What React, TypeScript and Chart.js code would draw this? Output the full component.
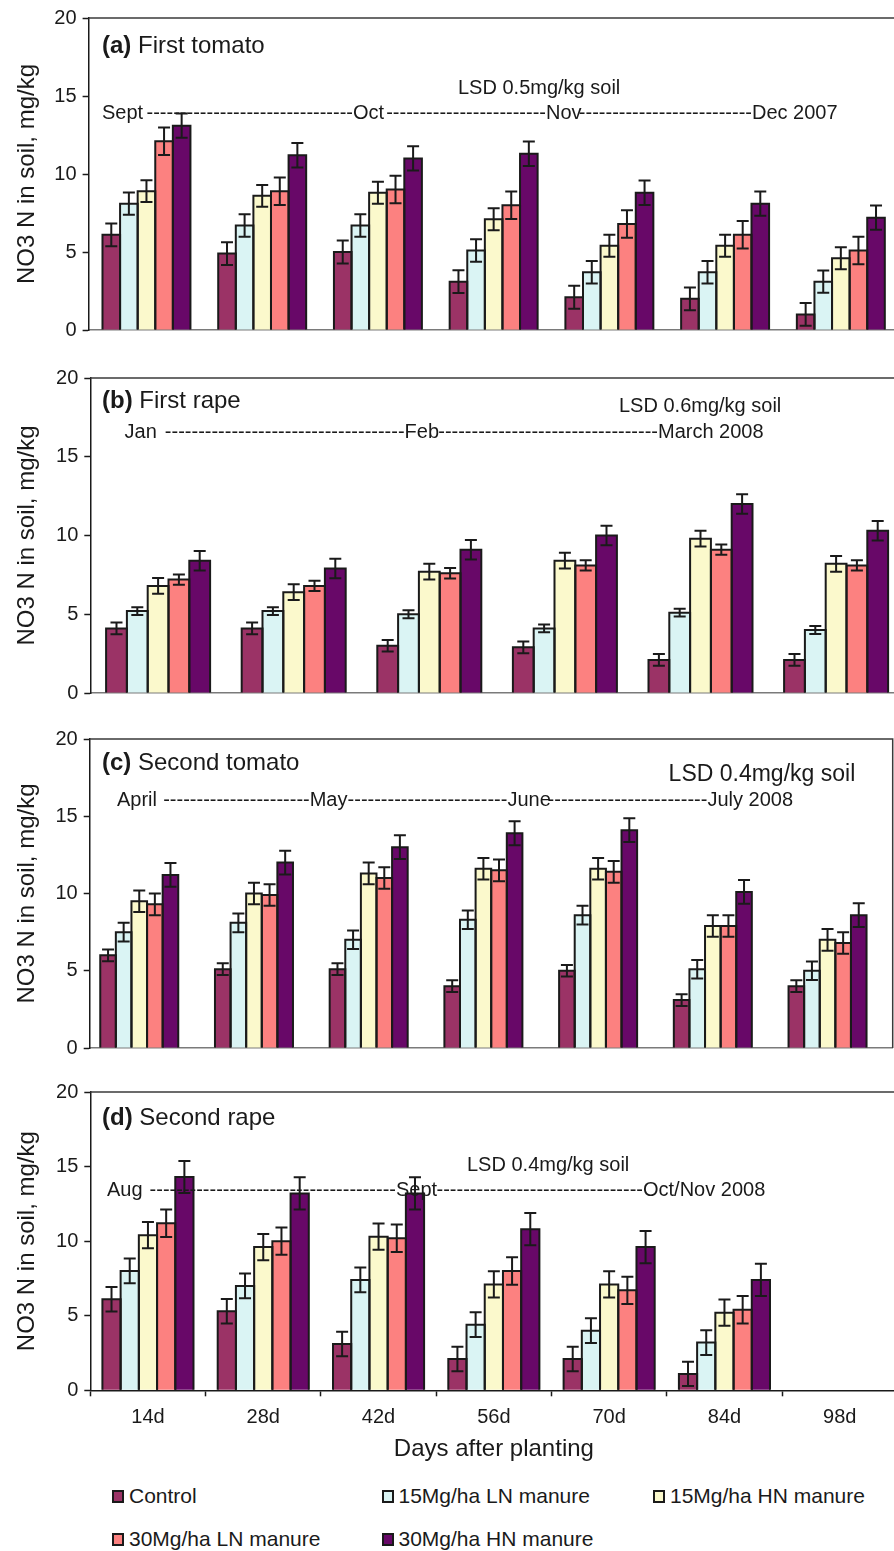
import React, { useEffect, useRef } from 'react';
import { Chart, registerables } from 'chart.js';

Chart.register(...registerables);

const FONT = '"Liberation Sans", Arial, Helvetica, sans-serif';
const INK = '#1a1a1a';

// ---------- data ----------
const seriesNames = ['Control', '15Mg/ha LN manure', '15Mg/ha HN manure', '30Mg/ha LN manure', '30Mg/ha HN manure'];
const seriesColors = ['#9b3366', '#daf4f4', '#fbf9cc', '#fc8180', '#680868'];

const days = ['14d', '28d', '42d', '56d', '70d', '84d', '98d'];
const daysFirstRape = ['14d', '28d', '42d', '56d', '70d', '84d'];

// (a) First tomato
const tomato1Control = [6.1, 4.9, 5.0, 3.1, 2.1, 2.0, 1.0];
const tomato1LN15 = [8.1, 6.7, 6.7, 5.1, 3.7, 3.7, 3.1];
const tomato1HN15 = [8.9, 8.6, 8.8, 7.1, 5.4, 5.4, 4.6];
const tomato1LN30 = [12.1, 8.9, 9.0, 8.0, 6.8, 6.1, 5.1];
const tomato1HN30 = [13.1, 11.2, 11.0, 11.3, 8.8, 8.1, 7.2];
const tomato1Err = [0.73, 0.72, 0.7, 0.88, 0.78];

// (b) First rape
const rape1Control = [4.1, 4.1, 3.0, 2.9, 2.1, 2.1];
const rape1LN15 = [5.2, 5.2, 5.0, 4.1, 5.1, 4.0];
const rape1HN15 = [6.8, 6.4, 7.7, 8.4, 9.8, 8.2];
const rape1LN30 = [7.2, 6.8, 7.6, 8.1, 9.1, 8.1];
const rape1HN30 = [8.4, 7.9, 9.1, 10.0, 12.0, 10.3];
const rape1Err = [0.37, 0.25, 0.5, 0.33, 0.62];

// (c) Second tomato
const tomato2Control = [6.0, 5.1, 5.1, 4.0, 5.0, 3.1, 4.0];
const tomato2LN15 = [7.5, 8.1, 7.0, 8.3, 8.6, 5.1, 5.0];
const tomato2HN15 = [9.5, 10.0, 11.3, 11.6, 11.6, 7.9, 7.0];
const tomato2LN30 = [9.3, 9.9, 11.0, 11.5, 11.4, 7.9, 6.8];
const tomato2HN30 = [11.2, 12.0, 13.0, 13.9, 14.1, 10.1, 8.6];
const tomato2Err = [0.38, 0.6, 0.7, 0.7, 0.77];
const tomato2Spacer = [null, null, null, null, null, null, null];

// (d) Second rape
const rape2Control = [6.1, 5.3, 3.1, 2.1, 2.1, 1.1, null];
const rape2LN15 = [8.0, 7.0, 7.4, 4.4, 4.0, 3.2, null];
const rape2HN15 = [10.4, 9.6, 10.3, 7.1, 7.1, 5.2, null];
const rape2LN30 = [11.2, 10.0, 10.2, 8.0, 6.7, 5.4, null];
const rape2HN30 = [14.3, 13.2, 13.2, 10.8, 9.6, 7.4, null];
const rape2Err = [0.82, 0.83, 0.88, 0.92, 1.08];

const yTicks = [0, 5, 10, 15, 20];

// ---------- panel configuration ----------
type Panel = {
  key: string;
  labels: string[];
  values: (number | null)[][];
  errors: number[];
  spacer?: (number | null)[];
  plotTop: number;
  plotBottom: number;
  left: number;
  right: number;
  cat: number;
  xAxis: boolean;
  rightBorder: boolean;
  title: [string, string];
  titlePos: [number, number];
  titleSize: number;
  lsd: { text: string; x: number; y: number; size: number };
  months: { texts: string[]; xs: number[]; y: number };
};

const CANVAS_W = 920;
const PAD_TOP = 16;
const X_AXIS_H = 73.7;

const panels: Panel[] = [
  {
    key: 'a', labels: days,
    values: [tomato1Control, tomato1LN15, tomato1HN15, tomato1LN30, tomato1HN30], errors: tomato1Err,
    plotTop: 15.7, plotBottom: 331.7, left: 88.6, right: 898.7, cat: 0.76, xAxis: false, rightBorder: false,
    title: ['(a)', ' First tomato'], titlePos: [102, 53], titleSize: 24,
    lsd: { text: 'LSD 0.5mg/kg soil', x: 458, y: 94, size: 20 },
    months: { texts: ['Sept', 'Oct', 'Nov', 'Dec 2007'], xs: [102, 353, 546, 752], y: 119 },
  },
  {
    key: 'b', labels: daysFirstRape,
    values: [rape1Control, rape1LN15, rape1HN15, rape1LN30, rape1HN30], errors: rape1Err,
    plotTop: 375.7, plotBottom: 695, left: 90.3, right: 903.9, cat: 0.767, xAxis: false, rightBorder: false,
    title: ['(b)', ' First rape'], titlePos: [102, 408], titleSize: 24,
    lsd: { text: 'LSD 0.6mg/kg soil', x: 619, y: 412, size: 20 },
    months: { texts: ['Jan', 'Feb', 'March 2008'], xs: [124.6, 404.6, 658], y: 438 },
  },
  {
    key: 'c', labels: days,
    values: [tomato2Control, tomato2LN15, tomato2HN15, tomato2LN30, tomato2HN30], errors: tomato2Err,
    spacer: tomato2Spacer,
    plotTop: 737.3, plotBottom: 1050.7, left: 89.7, right: 892.7, cat: 0.816, xAxis: false, rightBorder: true,
    title: ['(c)', ' Second tomato'], titlePos: [102, 770], titleSize: 24,
    lsd: { text: 'LSD 0.4mg/kg soil', x: 668.6, y: 781, size: 23 },
    months: { texts: ['April', 'May', 'June', 'July 2008'], xs: [117, 309.7, 507.4, 707.4], y: 806 },
  },
  {
    key: 'd', labels: days,
    values: [rape2Control, rape2LN15, rape2HN15, rape2LN30, rape2HN30], errors: rape2Err,
    plotTop: 1090, plotBottom: 1390.7, left: 90.3, right: 897.4, cat: 0.79, xAxis: true, rightBorder: false,
    title: ['(d)', ' Second rape'], titlePos: [102, 1125], titleSize: 24,
    lsd: { text: 'LSD 0.4mg/kg soil', x: 467, y: 1171, size: 20 },
    months: { texts: ['Aug', 'Sept', 'Oct/Nov 2008'], xs: [107, 396, 643], y: 1196 },
  },
];

const legendPlacement = [
  { x: 112, y: 1496 },
  { x: 381.5, y: 1496 },
  { x: 653, y: 1496 },
  { x: 112, y: 1539 },
  { x: 381.5, y: 1539 },
];

function canvasTopOf(p: Panel) {
  return p.plotTop - PAD_TOP;
}
function canvasHeightOf(p: Panel) {
  return PAD_TOP + (p.plotBottom - p.plotTop) + (p.xAxis ? X_AXIS_H + 4 : 16);
}

function makeDecor(p: Panel) {
  const top0 = canvasTopOf(p);
  return {
    id: 'decor' + p.key,
    afterDatasetsDraw(chart: any) {
      const ctx: CanvasRenderingContext2D = chart.ctx;
      const ys = chart.scales.y;
      ctx.save();
      // bar outlines (shared edges between adjacent bars)
      ctx.strokeStyle = INK;
      ctx.lineWidth = 2;
      ctx.lineJoin = 'miter';
      p.values.forEach((vals, di) => {
        const meta = chart.getDatasetMeta(di);
        meta.data.forEach((el: any, j: number) => {
          const v = vals[j];
          if (v == null) return;
          const { x, y, base, width } = el.getProps(['x', 'y', 'base', 'width'], true);
          const l = x - width / 2;
          const r = x + width / 2;
          ctx.beginPath();
          ctx.moveTo(l, base);
          ctx.lineTo(l, y);
          ctx.lineTo(r, y);
          ctx.lineTo(r, base);
          ctx.stroke();
        });
      });
      // error bars
      ctx.strokeStyle = INK;
      ctx.lineWidth = 2;
      const cap = 6;
      p.values.forEach((vals, di) => {
        const meta = chart.getDatasetMeta(di);
        const e = p.errors[di];
        meta.data.forEach((el: any, j: number) => {
          const v = vals[j];
          if (v == null) return;
          const { x } = el.getProps(['x'], true);
          const yHi = ys.getPixelForValue(v + e);
          const yLo = ys.getPixelForValue(Math.max(0, v - e));
          ctx.beginPath();
          ctx.moveTo(x, yHi);
          ctx.lineTo(x, yLo);
          ctx.moveTo(x - cap, yHi);
          ctx.lineTo(x + cap, yHi);
          ctx.moveTo(x - cap, yLo);
          ctx.lineTo(x + cap, yLo);
          ctx.stroke();
        });
      });
      ctx.restore();
    },
    afterDraw(chart: any) {
      const ctx: CanvasRenderingContext2D = chart.ctx;
      const a = chart.chartArea;
      ctx.save();
      // plot frame: top (and right for panel c)
      ctx.strokeStyle = '#3a3a3a';
      ctx.lineWidth = 1.5;
      ctx.beginPath();
      ctx.moveTo(a.left, a.top);
      ctx.lineTo(a.right, a.top);
      if (p.rightBorder) ctx.lineTo(a.right, a.bottom);
      ctx.stroke();

      ctx.fillStyle = INK;
      ctx.textBaseline = 'alphabetic';
      ctx.textAlign = 'left';
      // panel title
      const [tx, ty] = p.titlePos;
      ctx.font = `bold ${p.titleSize}px ${FONT}`;
      ctx.fillText(p.title[0], tx, ty - top0);
      const w0 = ctx.measureText(p.title[0]).width;
      ctx.font = `${p.titleSize}px ${FONT}`;
      ctx.fillText(p.title[1], tx + w0, ty - top0);

      // LSD
      ctx.font = `${p.lsd.size}px ${FONT}`;
      ctx.fillText(p.lsd.text, p.lsd.x, p.lsd.y - top0);

      // months with dashed leaders
      ctx.font = `20px ${FONT}`;
      const dashW = ctx.measureText('-').width;
      const spaceW = ctx.measureText(' ').width;
      const m = p.months;
      m.texts.forEach((t, i) => {
        ctx.fillText(t, m.xs[i], m.y - top0);
        if (i < m.texts.length - 1) {
          const start = m.xs[i] + ctx.measureText(t).width + (i === 0 ? spaceW : 0);
          const end = m.xs[i + 1];
          const n = Math.max(0, Math.round((end - start) / dashW));
          ctx.fillText('-'.repeat(n), end - n * dashW, m.y - top0);
        }
      });
      ctx.restore();
    },
  };
}

function PanelChart({ p }: { p: Panel }) {
  const ref = useRef<HTMLCanvasElement | null>(null);
  useEffect(() => {
    if (!ref.current) return;
    const datasets: any[] = p.values.map((v, i) => ({
      label: seriesNames[i],
      data: v,
      backgroundColor: seriesColors[i],
      borderWidth: 0,
      barPercentage: 1,
      categoryPercentage: p.cat,
    }));
    if (p.spacer) {
      datasets.push({ label: '', data: p.spacer, backgroundColor: 'rgba(0,0,0,0)', borderWidth: 0, barPercentage: 1, categoryPercentage: p.cat });
    }
    const xScale: any = p.xAxis
      ? {
          grid: { display: true, drawOnChartArea: false, drawTicks: true, tickLength: 6, tickColor: INK, tickWidth: 1.5, offset: true },
          border: { color: INK, width: 1.5 },
          ticks: { font: { family: FONT, size: 20 }, color: INK, padding: 9, maxRotation: 0 },
          title: { display: true, text: 'Days after planting', font: { family: FONT, size: 24 }, color: INK, padding: { top: 0, bottom: 0 } },
          afterFit: (s: any) => { s.height = X_AXIS_H; },
        }
      : {
          grid: { display: false },
          border: { color: '#7a7a7a', width: 1.5 },
          ticks: { display: false },
          afterFit: (s: any) => { s.height = 0; },
        };
    const chart = new Chart(ref.current, {
      type: 'bar',
      data: { labels: p.labels, datasets },
      options: {
        responsive: false,
        animation: false,
        devicePixelRatio: 1,
        layout: { padding: { top: PAD_TOP, bottom: p.xAxis ? 4 : 16, left: 0, right: CANVAS_W - p.right } },
        plugins: { legend: { display: false }, tooltip: { enabled: false }, title: { display: false } },
        scales: {
          x: xScale,
          y: {
            min: 0,
            max: 20,
            afterBuildTicks: (s: any) => { s.ticks = yTicks.map((v) => ({ value: v })); },
            ticks: { font: { family: FONT, size: 20 }, color: INK, padding: 6 },
            grid: { display: true, drawOnChartArea: false, drawTicks: true, tickLength: 6, tickColor: INK, tickWidth: 1.5 },
            border: { color: INK, width: 1.5 },
            title: { display: true, text: 'NO3 N in soil, mg/kg', font: { family: FONT, size: 24 }, color: INK, padding: { top: 12.6, bottom: 0 } },
            afterFit: (s: any) => { s.width = p.left; },
          },
        },
      } as any,
      plugins: [makeDecor(p)],
    });
    return () => chart.destroy();
  }, [p]);
  const h = canvasHeightOf(p);
  return (
    <canvas
      ref={ref}
      width={CANVAS_W}
      height={Math.round(h)}
      style={{ position: 'absolute', left: 0, top: Math.round(canvasTopOf(p)), width: CANVAS_W, height: Math.round(h) }}
    />
  );
}

function Legend() {
  return (
    <>
      {seriesNames.map((name, i) => (
        <div
          key={name}
          style={{
            position: 'absolute',
            left: legendPlacement[i].x,
            top: legendPlacement[i].y - 14,
            height: 28,
            display: 'flex',
            alignItems: 'center',
            whiteSpace: 'nowrap',
          }}
        >
          <span
            style={{
              display: 'inline-block',
              width: 12,
              height: 13,
              boxSizing: 'border-box',
              border: `2px solid ${INK}`,
              background: seriesColors[i],
              marginRight: 5,
            }}
          />
          <span style={{ fontFamily: FONT, fontSize: 21, color: INK, lineHeight: '28px' }}>{name}</span>
        </div>
      ))}
    </>
  );
}

export default function App() {
  return (
    <div
      style={{
        position: 'fixed',
        left: 0,
        top: 0,
        width: 894,
        height: 1551,
        overflow: 'hidden',
        background: '#ffffff',
      }}
    >
      {panels.map((p) => (
        <PanelChart key={p.key} p={p} />
      ))}
      <Legend />
    </div>
  );
}
